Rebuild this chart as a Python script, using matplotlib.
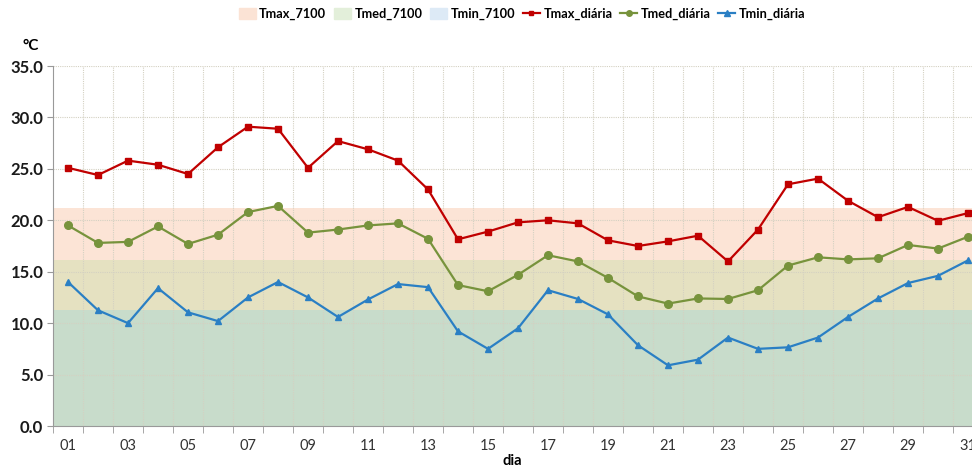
import matplotlib
matplotlib.use("Agg")
import matplotlib.pyplot as plt
from matplotlib.patches import Patch
from matplotlib.lines import Line2D
import numpy as np

plt.rcParams['font.family'] = ['Lato', 'DejaVu Sans']

days = list(range(1, 32))
day_labels = [f"{d:02d}" for d in days]

tmax_diaria = [25.1, 24.4, 25.8, 25.4, 24.5, 27.1, 29.1, 28.9, 25.1, 27.7,
               26.9, 25.8, 23.0, 18.15, 18.9, 19.8, 20.0, 19.7, 18.05, 17.5,
               17.95, 18.5, 16.0, 19.1, 23.5, 24.05, 21.9, 20.3, 21.3, 19.95, 20.7]
tmed_diaria = [19.5, 17.8, 17.9, 19.4, 17.7, 18.6, 20.8, 21.4, 18.8, 19.1,
               19.5, 19.7, 18.2, 13.7, 13.1, 14.7, 16.6, 16.0, 14.4, 12.6,
               11.9, 12.4, 12.35, 13.2, 15.6, 16.4, 16.2, 16.3, 17.6, 17.25, 18.4]
tmin_diaria = [14.0, 11.25, 10.0, 13.4, 11.05, 10.2, 12.5, 14.0, 12.5, 10.6,
               12.3, 13.8, 13.5, 9.2, 7.5, 9.5, 13.2, 12.35, 10.85, 7.85,
               5.9, 6.45, 8.6, 7.5, 7.65, 8.6, 10.6, 12.4, 13.9, 14.6, 16.1]

tmax_7100 = 21.15
tmed_7100 = 16.15
tmin_7100 = 11.25

fig = plt.figure(figsize=(9.72, 4.69), dpi=100)
ax = fig.add_axes([53/972, 1-426/469, (983-53)/972, (426-66)/469])

x = np.array(days)
xe = np.array([0.5, 31.5])
# climatology bands (overlapping areas)
ax.fill_between(xe, 0, tmax_7100, color="#fce4d6", lw=0, zorder=1)
ax.fill_between(xe, 0, tmed_7100, color="#e5e1c1", lw=0, zorder=1)
ax.fill_between(xe, 0, tmin_7100, color="#c8dccb", lw=0, zorder=1)

ax.plot(x, tmax_diaria, color="#c00000", marker="s", ms=4.5, lw=1.6, zorder=4)
ax.plot(x, tmed_diaria, color="#77933c", marker="o", ms=5.5, lw=1.6, zorder=4)
ax.plot(x, tmin_diaria, color="#2a7fc4", marker="^", ms=5, lw=1.6, zorder=4)

ax.set_xlim(0.5, 31.5)
ax.set_ylim(0, 35)
ax.set_yticks(np.arange(0, 35.1, 5))
ax.set_yticklabels([f"{v:.1f}" for v in np.arange(0, 35.1, 5)],
                   fontsize=12, fontweight="bold", color="#1a1a1a")

ax.set_xticks(x[::2])
ax.set_xticklabels(day_labels[::2], fontsize=10.5, color="#333333")
ax.set_xticks(np.arange(0.5, 31.6, 1), minor=True)
ax.tick_params(axis="x", which="major", length=0, pad=9)
ax.tick_params(axis="x", which="minor", length=5, color="#999999", direction="out")
ax.tick_params(axis="y", length=4, color="#999999", direction="out", pad=3)

ax.grid(False)
for xv in np.arange(1.5, 31.5, 1):
    ax.axvline(xv, color="#d4d1c2", lw=0.8, ls=(0, (1, 1)), zorder=2)
for yv in np.arange(5, 35.1, 5):
    ax.axhline(yv, color="#d4d1c2", lw=0.8, ls=(0, (1, 1)), zorder=2)

for s in ["top", "right"]:
    ax.spines[s].set_visible(False)
for s in ["left", "bottom"]:
    ax.spines[s].set_color("#999999")
    ax.spines[s].set_zorder(5)

fig.text(31/972, 1-46/469, "°C", fontsize=11, fontweight="bold", ha="center", va="center")
fig.text(512/972, 1-461/469, "dia", fontsize=10.5, fontweight="bold", ha="center", va="center")

handles = [
    Patch(color="#fbe3d5"),
    Patch(color="#e3efda"),
    Patch(color="#ddeaf6"),
    Line2D([], [], color="#c00000", marker="s", ms=3.5, lw=1.6),
    Line2D([], [], color="#77933c", marker="o", ms=4, lw=1.6),
    Line2D([], [], color="#2a7fc4", marker="^", ms=4, lw=1.6),
]
labels = ["Tmax_7100", "Tmed_7100", "Tmin_7100", "Tmax_diária", "Tmed_diária", "Tmin_diária"]
fig.legend(handles, labels, loc="center", bbox_to_anchor=(522/972, 1-14/469), ncol=6,
           frameon=False, prop={"size": 9.2, "weight": "bold"}, handlelength=1.35,
           handletextpad=0.25, columnspacing=0.6, handleheight=0.9)

fig.savefig("out.png", dpi=100)
